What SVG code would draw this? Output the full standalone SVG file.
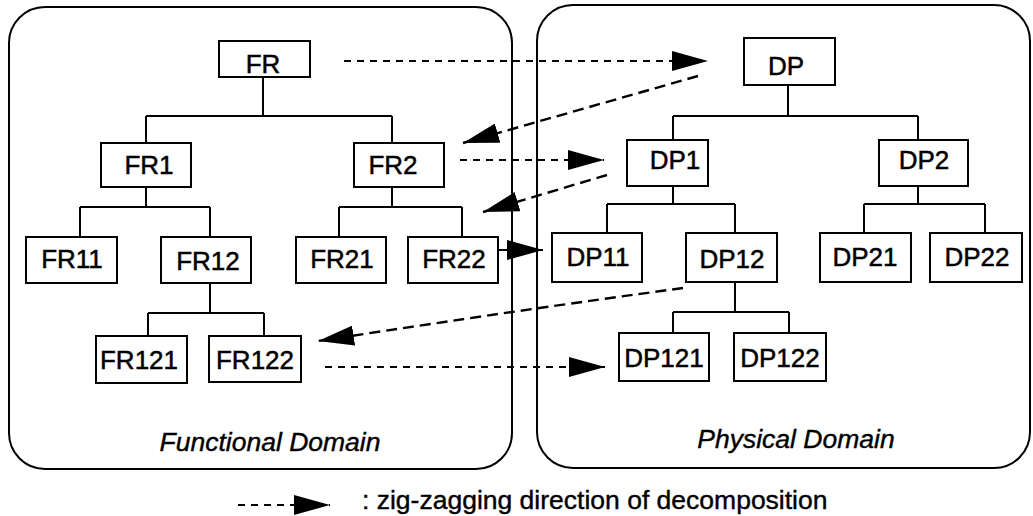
<svg xmlns="http://www.w3.org/2000/svg" width="1033" height="516" viewBox="0 0 1033 516">
<style>
.panel{fill:none;stroke:#000;stroke-width:2}
.box{fill:#fff;stroke:#000;stroke-width:2}
.lbl{font-family:"Liberation Sans",Arial,sans-serif;font-size:26px;fill:#000;stroke:#000;stroke-width:0.5;text-anchor:middle}
.dom{font-family:"Liberation Sans",Arial,sans-serif;font-size:26.5px;font-style:italic;fill:#000;stroke:#000;stroke-width:0.4;text-anchor:middle}
.leg{font-family:"Liberation Sans",Arial,sans-serif;font-size:26.5px;fill:#000;stroke:#000;stroke-width:0.4}
.tree{fill:none;stroke:#000;stroke-width:2}
.dot{fill:none;stroke:#000;stroke-width:2;stroke-dasharray:7 6}
.dash{fill:none;stroke:#000;stroke-width:2.4;stroke-dasharray:11 6}
</style>
<defs>
<marker id="ah" markerUnits="userSpaceOnUse" markerWidth="37" markerHeight="20" refX="36" refY="10" orient="auto">
<path d="M0,0 L36,10 L0,20 Z" fill="#000"/>
</marker>
</defs>
<rect width="1033" height="516" fill="#fff"/>
<g id="functional-domain">
<rect class="panel" x="9" y="7" width="503" height="462" rx="36" ry="36"/>
<text class="dom" x="270" y="451">Functional Domain</text>
</g>
<g id="physical-domain">
<rect class="panel" x="537" y="5" width="493" height="463" rx="36" ry="36"/>
<text class="dom" x="796" y="448">Physical Domain</text>
</g>
<g id="tree-lines">
<path class="tree" d="M263,77 V116 M146,116 H392 M146,116 V143 M392,116 V143"/>
<path class="tree" d="M146,187 V207 M80,207 H210 M80,207 V237 M210,207 V237"/>
<path class="tree" d="M392,187 V207 M339,207 H462 M339,207 V237 M462,207 V237"/>
<path class="tree" d="M210,283 V313 M148,313 H264 M148,313 V336 M264,313 V336"/>
<path class="tree" d="M788,85 V116 M673,116 H918 M673,116 V140 M918,116 V140"/>
<path class="tree" d="M673,186 V204 M607,204 H735 M607,204 V233 M735,204 V233"/>
<path class="tree" d="M918,186 V204 M864,204 H985 M864,204 V233 M985,204 V233"/>
<path class="tree" d="M735,282 V312 M673,312 H789 M673,312 V333 M789,312 V333"/>
</g>
<g id="FR"><rect class="box" x="219" y="41" width="91" height="36"/><text class="lbl" x="263" y="73">FR</text></g>
<g id="FR1"><rect class="box" x="101" y="143" width="90" height="44"/><text class="lbl" x="149" y="174">FR1</text></g>
<g id="FR2"><rect class="box" x="354" y="143" width="90" height="44"/><text class="lbl" x="393" y="174">FR2</text></g>
<g id="FR11"><rect class="box" x="26" y="237" width="91" height="46"/><text class="lbl" x="72" y="268">FR11</text></g>
<g id="FR12"><rect class="box" x="161" y="237" width="90" height="46"/><text class="lbl" x="208" y="270">FR12</text></g>
<g id="FR21"><rect class="box" x="296" y="237" width="90" height="46"/><text class="lbl" x="342" y="268">FR21</text></g>
<g id="FR22"><rect class="box" x="408" y="237" width="90" height="46"/><text class="lbl" x="454" y="268">FR22</text></g>
<g id="FR121"><rect class="box" x="96" y="336" width="91" height="47"/><text class="lbl" x="139" y="369">FR121</text></g>
<g id="FR122"><rect class="box" x="209" y="336" width="92" height="46"/><text class="lbl" x="255" y="369">FR122</text></g>
<g id="DP"><rect class="box" x="744" y="38" width="91" height="47"/><text class="lbl" x="786" y="75">DP</text></g>
<g id="DP1"><rect class="box" x="627" y="140" width="81" height="46"/><text class="lbl" x="675" y="169">DP1</text></g>
<g id="DP2"><rect class="box" x="879" y="140" width="89" height="46"/><text class="lbl" x="924" y="169">DP2</text></g>
<g id="DP11"><rect class="box" x="552" y="233" width="90" height="49"/><text class="lbl" x="598" y="266">DP11</text></g>
<g id="DP12"><rect class="box" x="686" y="233" width="91" height="49"/><text class="lbl" x="732" y="268">DP12</text></g>
<g id="DP21"><rect class="box" x="820" y="233" width="91" height="49"/><text class="lbl" x="865" y="266">DP21</text></g>
<g id="DP22"><rect class="box" x="930" y="233" width="92" height="49"/><text class="lbl" x="977" y="266">DP22</text></g>
<g id="DP121"><rect class="box" x="619" y="333" width="90" height="48"/><text class="lbl" x="664" y="367">DP121</text></g>
<g id="DP122"><rect class="box" x="734" y="333" width="92" height="48"/><text class="lbl" x="780" y="367">DP122</text></g>
<g id="connectors">
<path class="dot" d="M344,61 L708,61" marker-end="url(#ah)"/>
<path class="dash" d="M698,76 L463,143" marker-end="url(#ah)"/>
<path class="dot" d="M460,160 L604,160" marker-end="url(#ah)"/>
<path class="dash" d="M607,175 L483,212" marker-end="url(#ah)"/>
<path class="tree" d="M498,250 L543,250" marker-end="url(#ah)"/>
<path class="dash" d="M683,288 Q520,310 318,341" marker-end="url(#ah)"/>
<path class="dot" d="M325,367 L605,367" marker-end="url(#ah)"/>
</g>
<g id="legend">
<path class="dot" d="M238,505 L330,505" marker-end="url(#ah)"/>
<text class="leg" x="362" y="509">: zig-zagging direction of decomposition</text>
</g>
</svg>
